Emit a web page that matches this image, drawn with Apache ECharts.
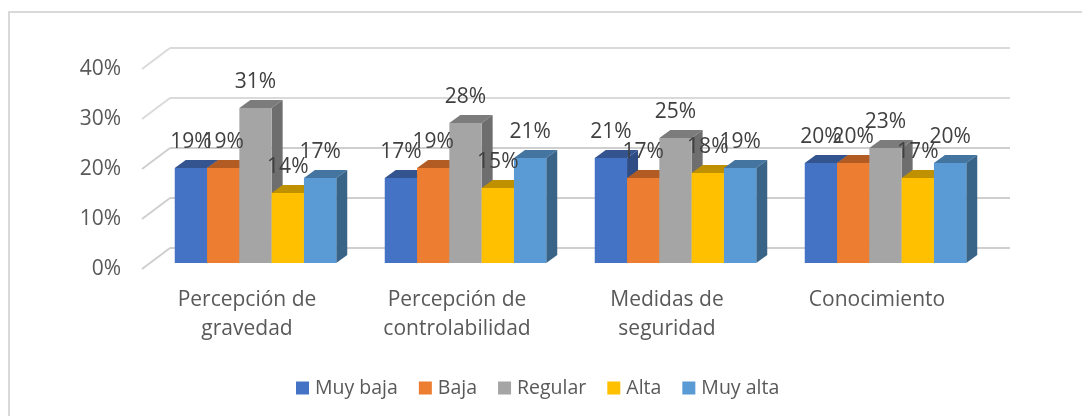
<!DOCTYPE html>
<html>
<head>
<meta charset="utf-8">
<style>
  html, body { margin: 0; padding: 0; background: #fff; }
  #chart { width: 1082px; height: 416px; }
</style>
<script src="https://cdn.jsdelivr.net/npm/echarts@6/dist/echarts.min.js"></script>
</head>
<body>
<div id="chart"></div>
<script>
  var categories = ['Percepción de\ngravedad', 'Percepción de\ncontrolabilidad', 'Medidas de\nseguridad', 'Conocimiento'];
  var seriesNames = ['Muy baja', 'Baja', 'Regular', 'Alta', 'Muy alta'];
  var muyBaja = [19, 17, 21, 20];
  var baja = [19, 19, 17, 20];
  var regular = [31, 28, 25, 23];
  var alta = [14, 15, 18, 17];
  var muyAlta = [17, 21, 19, 20];
  var yTicks = [0, 10, 20, 30, 40];

  var allValues = [muyBaja, baja, regular, alta, muyAlta];
  var frontColors = ['#4472C4', '#ED7D31', '#A5A5A5', '#FFC000', '#5B9BD5'];
  var topColors = ['#34548F', '#B25C24', '#7C7C7C', '#BF9000', '#4475A1'];
  var sideColors = ['#2F4D84', '#9E5220', '#6E6E6E', '#A88000', '#3A6487'];

  var barW = 32.3;
  var frontDx = 8.5, frontDy = -6; // bars sit in the middle of the floor depth
  var depthX = 11, depthY = -8;
  var wallDx = 28, wallDy = -21;

  // front left corner of a bar's top, and its base y
  function barBox(api, serieIdx) {
    var top = api.coord([api.value(0), api.value(1)]);
    var base = api.coord([api.value(0), 0]);
    return {
      x: top[0] + frontDx - barW * 2.5 + serieIdx * barW,
      y: top[1] + frontDy,
      y0: base[1] + frontDy
    };
  }

  function poly(points, color) {
    return { type: 'polygon', shape: { points: points }, style: { fill: color } };
  }

  function barSeries(serieIdx) {
    return {
      type: 'custom',
      name: seriesNames[serieIdx],
      z: 3,
      itemStyle: { color: frontColors[serieIdx] },
      data: allValues[serieIdx].map(function (v, i) { return [i, v]; }),
      encode: { x: 0, y: 1 },
      renderItem: function (params, api) {
        var b = barBox(api, serieIdx);
        var x1 = b.x + barW;
        return {
          type: 'group',
          children: [
            poly([[b.x, b.y], [b.x + depthX, b.y + depthY], [x1 + depthX, b.y + depthY], [x1, b.y]], topColors[serieIdx]),
            poly([[x1, b.y], [x1 + depthX, b.y + depthY], [x1 + depthX, b.y0 + depthY], [x1, b.y0]], sideColors[serieIdx]),
            { type: 'rect', shape: { x: b.x, y: b.y, width: barW, height: b.y0 - b.y }, style: { fill: frontColors[serieIdx] } }
          ]
        };
      }
    };
  }

  // value labels go in their own series so they stay above every bar
  function labelSeries(serieIdx) {
    return {
      type: 'custom',
      silent: true,
      z: 5,
      data: allValues[serieIdx].map(function (v, i) { return [i, v]; }),
      encode: { x: 0, y: 1 },
      renderItem: function (params, api) {
        var b = barBox(api, serieIdx);
        return {
          type: 'text',
          style: {
            text: api.value(1) + '%',
            x: b.x + barW / 2,
            y: b.y - 26,
            align: 'center',
            verticalAlign: 'middle',
            fill: '#404040',
            font: '21px "Open Sans"'
          }
        };
      }
    };
  }

  // back wall lines and the diagonal floor/side ticks
  var gridSeries = {
    type: 'custom',
    silent: true,
    z: 1,
    data: yTicks.map(function (v) { return [0, v]; }),
    encode: { y: 1 },
    renderItem: function (params, api) {
      var rect = params.coordSys;
      var y = api.coord([0, api.value(1)])[1];
      var lineStyle = { stroke: api.value(1) > 20 ? '#DADADA' : '#CFCFCF', lineWidth: 2, fill: null };
      return {
        type: 'group',
        children: [
          { type: 'line', shape: { x1: rect.x, y1: y, x2: rect.x + wallDx, y2: y + wallDy }, style: lineStyle },
          { type: 'line', shape: { x1: rect.x + wallDx, y1: y + wallDy, x2: rect.x + rect.width + wallDx, y2: y + wallDy }, style: lineStyle }
        ]
      };
    }
  };

  var series = [gridSeries];
  seriesNames.forEach(function (n, i) { series.push(barSeries(i)); });
  seriesNames.forEach(function (n, i) { series.push(labelSeries(i)); });

  var myChart = echarts.init(document.getElementById('chart'), null, { renderer: 'canvas' });
  myChart.setOption({
    animation: false,
    backgroundColor: '#fff',
    textStyle: { fontFamily: '"Open Sans"' },
    // the frame only shows on the top and left edges
    graphic: [
      { type: 'line', silent: true, shape: { x1: 9, y1: 12, x2: 1082, y2: 12 }, style: { stroke: '#D9D9D9', lineWidth: 2 } },
      { type: 'line', silent: true, shape: { x1: 9, y1: 11, x2: 9, y2: 416 }, style: { stroke: '#D9D9D9', lineWidth: 2 } }
    ],
    grid: { left: 142, top: 69, width: 840, height: 200 },
    legend: {
      left: 291,
      top: 373,
      itemWidth: 13,
      itemHeight: 13,
      itemGap: 21,
      icon: 'rect',
      data: seriesNames,
      textStyle: { color: '#595959', fontSize: 19.5, fontFamily: '"Open Sans"', padding: [0, 0, 0, 1] }
    },
    xAxis: {
      type: 'category',
      data: categories,
      axisLine: { show: false },
      axisTick: { show: false },
      axisLabel: { color: '#595959', fontSize: 21, lineHeight: 29, margin: 17, interval: 0 }
    },
    yAxis: {
      type: 'value',
      min: 0,
      max: 40,
      interval: 10,
      axisLine: { show: false },
      axisTick: { show: false },
      splitLine: { show: false },
      axisLabel: { color: '#595959', fontSize: 21, margin: 21, padding: [2, 0, 0, 0], formatter: '{value}%' }
    },
    series: series
  });
</script>
</body>
</html>
